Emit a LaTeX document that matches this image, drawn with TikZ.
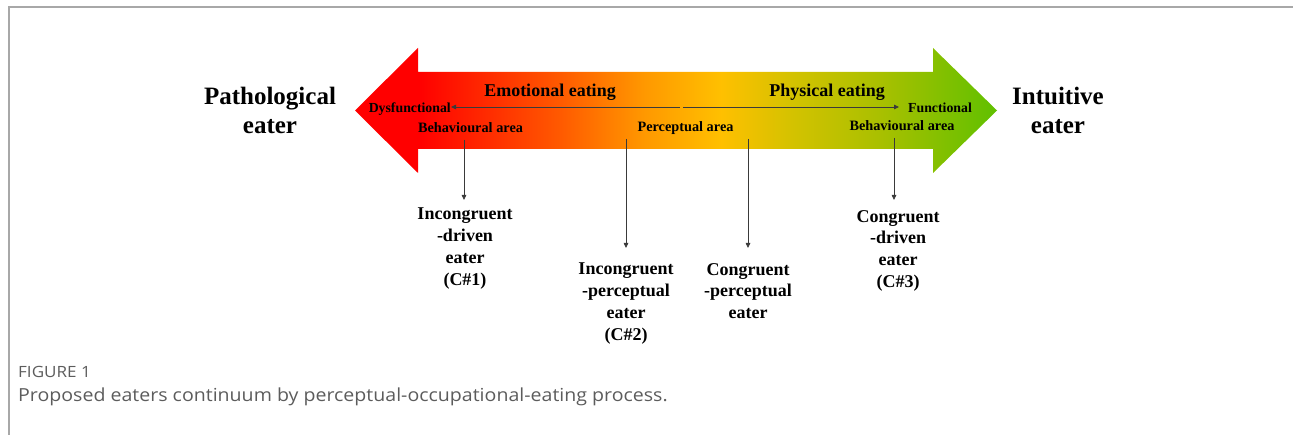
\documentclass[tikz,border=0pt]{standalone}
\usepackage{fontspec}
\setmainfont{Liberation Serif}
\newfontfamily\capfont{Open Sans}
\usetikzlibrary{arrows.meta}
\definecolor{linegray}{HTML}{3A3A3A}
\definecolor{framegray}{HTML}{A8A8A8}
\definecolor{capgray}{HTML}{5C5C5C}
\definecolor{ga}{HTML}{FF0000}
\definecolor{gb}{HTML}{FF5A00}
\definecolor{gc}{HTML}{FF9800}
\definecolor{gd}{HTML}{FFC000}
\definecolor{ge}{HTML}{D4C200}
\definecolor{gf}{HTML}{A8C000}
\definecolor{gg}{HTML}{60C000}
\pgfdeclarehorizontalshading{eatgrad}{100bp}{color(0bp)=(ga); color(30bp)=(ga); color(41bp)=(gb); color(47.5bp)=(gc); color(53.5bp)=(gd); color(59bp)=(ge); color(66bp)=(gf); color(75bp)=(gg); color(100bp)=(gg)}
\begin{document}
\begin{tikzpicture}[x=1bp,y=-1bp,
  conn/.style={draw=linegray, line width=0.8bp, -{Triangle[length=5bp,width=4.5bp]}},
  bigtxt/.style={font=\bfseries\fontsize{25bp}{29bp}\selectfont, align=center, inner sep=0pt},
  midtxt/.style={font=\bfseries\fontsize{18bp}{21.7bp}\selectfont, align=center, inner sep=0pt},
  smalltxt/.style={font=\bfseries\fontsize{13.8bp}{16bp}\selectfont, inner sep=0pt},
  areatxt/.style={font=\bfseries\fontsize{14.3bp}{16bp}\selectfont, inner sep=0pt},
  cattxt/.style={font=\bfseries\fontsize{18bp}{21.7bp}\selectfont, align=center, inner sep=0pt},
  captxt/.style={anchor=base west, inner sep=0pt, text=capgray}
]
\useasboundingbox (0,0) rectangle (1293,435);
\draw[framegray, line width=1.5bp] (9,435) -- (9,7) -- (1293,7);

% the continuum arrow
\path[shading=eatgrad] (355,110.5) -- (418,48) -- (418,72) -- (933,72) -- (933,48)
  -- (997,110.5) -- (933,173) -- (933,149) -- (418,149) -- (418,173) -- cycle;

% end labels
\node[bigtxt, anchor=north] (path) at (270,87) {Pathological\\eater};
\node[bigtxt, anchor=north] (intu) at (1058,87) {Intuitive\\eater};

% texts inside arrow
\node[cattxt, anchor=base] (emo) at (550,97) {Emotional eating};
\node[cattxt, anchor=base] (phys) at (827,97) {Physical eating};
\node[smalltxt, anchor=base east] (dys) at (451,113) {Dysfunctional};
\node[smalltxt, anchor=base west] (fun) at (908,113) {Functional};
\node[areatxt, anchor=base] (beh1) at (470.5,132.5) {Behavioural area};
\node[areatxt, anchor=base] (perc) at (685.5,131.5) {Perceptual area};
\node[areatxt, anchor=base] (beh2) at (902,131) {Behavioural area};

% horizontal double arrow
\coordinate (cl) at (680,107);
\coordinate (cr) at (683,107);
\draw[conn] (cl) -- (cl -| dys.east);
\draw[conn] (cr) -- ([xshift=-9bp]cr -| fun.west);

% eater types
\node[midtxt, anchor=north] (l1) at (465,208) {Incongruent\\-driven\\eater\\(C\#1)};
\node[midtxt, anchor=north] (l2) at (626,263) {Incongruent\\-perceptual\\eater\\(C\#2)};
\node[midtxt, anchor=north] (l3) at (748,263) {Congruent\\-perceptual\\eater};
\node[midtxt, anchor=north] (l4) at (898,210) {Congruent\\-driven\\eater\\(C\#3)};

\coordinate (v1) at (464,140);
\coordinate (v2) at (626,139);
\coordinate (v3) at (748,139);
\coordinate (v4) at (894,138);
\draw[conn, shorten >=8bp] (v1) -- (v1 |- l1.north);
\draw[conn, shorten >=15bp] (v2) -- (v2 |- l2.north);
\draw[conn, shorten >=15bp] (v3) -- (v3 |- l3.north);
\draw[conn, shorten >=10bp] (v4) -- (v4 |- l4.north);

% caption
\node[captxt, font=\capfont\fontsize{15.5bp}{18bp}\selectfont] (fig) at (18,378) {\scalebox{1.1}[1]{FIGURE 1}};
\node[captxt, font=\capfont\fontsize{18bp}{21bp}\selectfont] (cap) at (18,402) {\scalebox{1.087}[1]{Proposed eaters continuum by perceptual-occupational-eating process.}};
\end{tikzpicture}
\end{document}
